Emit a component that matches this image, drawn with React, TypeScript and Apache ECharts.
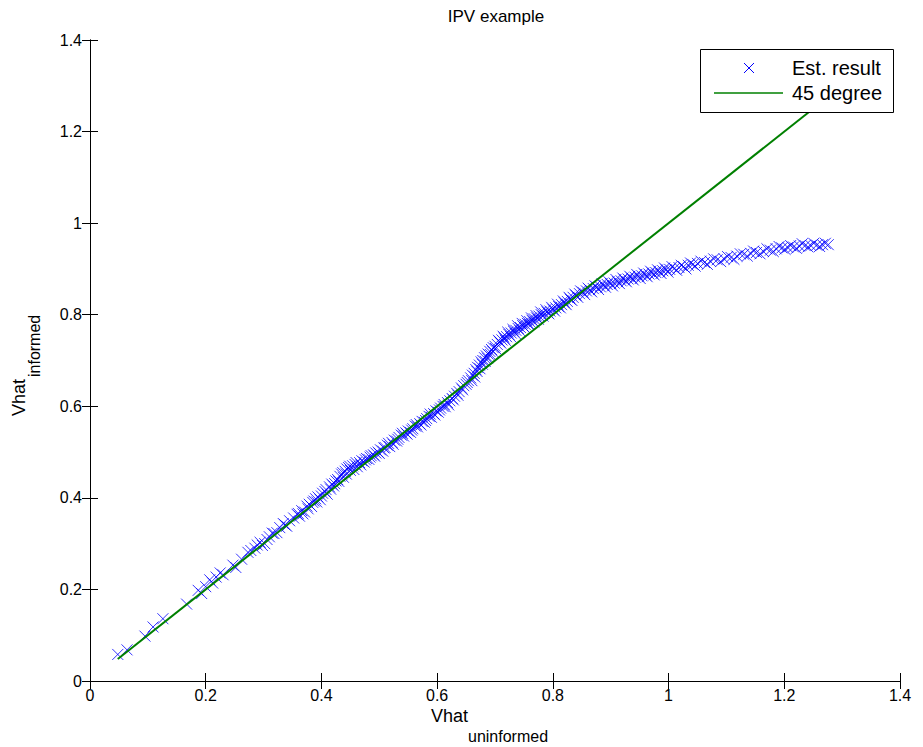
import React, { useEffect, useRef } from "react";
import * as echarts from "echarts";

const axisTicks = [0, 0.2, 0.4, 0.6, 0.8, 1, 1.2, 1.4];
const legendNames = ["Est. result", "45 degree"];

const estLow: number[][] = [
  [0.048, 0.058], [0.064, 0.068], [0.095, 0.098], [0.109, 0.118], [0.126, 0.136],
  [0.167, 0.168], [0.187, 0.198], [0.193, 0.191], [0.2, 0.206], [0.207, 0.221], [0.212, 0.214],
  [0.218, 0.227], [0.225, 0.236], [0.23, 0.232], [0.247, 0.253], [0.252, 0.248], [0.262, 0.266],
  [0.273, 0.281], [0.278, 0.285], [0.285, 0.29], [0.289, 0.297], [0.294, 0.303], [0.298, 0.296],
  [0.302, 0.3], [0.306, 0.309], [0.31, 0.315], [0.315, 0.323], [0.318, 0.322], [0.323, 0.324],
  [0.328, 0.335], [0.334, 0.344], [0.337, 0.341], [0.34, 0.338], [0.345, 0.35],
];

const estMid: number[][] = [
  [0.352, 0.356], [0.358, 0.364], [0.36, 0.366], [0.362, 0.36], [0.366, 0.372], [0.368, 0.365],
  [0.371, 0.369], [0.375, 0.382], [0.377, 0.376], [0.379, 0.386], [0.383, 0.381], [0.385, 0.39],
  [0.387, 0.393], [0.39, 0.398], [0.392, 0.391], [0.394, 0.402], [0.398, 0.396], [0.4, 0.404],
  [0.402, 0.41], [0.406, 0.414], [0.408, 0.418], [0.41, 0.408], [0.414, 0.424], [0.416, 0.419],
  [0.418, 0.43], [0.421, 0.426], [0.423, 0.431], [0.425, 0.437], [0.428, 0.44], [0.43, 0.436],
  [0.432, 0.447], [0.435, 0.452], [0.437, 0.455], [0.438, 0.445], [0.441, 0.458], [0.443, 0.452],
  [0.444, 0.463], [0.447, 0.466], [0.449, 0.469], [0.45, 0.46], [0.454, 0.47], [0.456, 0.462],
  [0.458, 0.473], [0.46, 0.477], [0.462, 0.468], [0.466, 0.477], [0.468, 0.472], [0.47, 0.481],
  [0.474, 0.478], [0.476, 0.483], [0.478, 0.486], [0.482, 0.484], [0.484, 0.489], [0.486, 0.492],
  [0.49, 0.494], [0.492, 0.491], [0.494, 0.498], [0.498, 0.5], [0.5, 0.497], [0.502, 0.505],
  [0.506, 0.502], [0.508, 0.509], [0.51, 0.51], [0.514, 0.515], [0.516, 0.519], [0.518, 0.512],
  [0.522, 0.521], [0.524, 0.517], [0.526, 0.526], [0.53, 0.524], [0.532, 0.528], [0.534, 0.532],
  [0.538, 0.537], [0.54, 0.541], [0.542, 0.535], [0.546, 0.542], [0.548, 0.539], [0.55, 0.546],
  [0.554, 0.543], [0.556, 0.548], [0.558, 0.551], [0.562, 0.557], [0.564, 0.56], [0.566, 0.555],
  [0.57, 0.562], [0.572, 0.559], [0.574, 0.567], [0.578, 0.565], [0.58, 0.569], [0.582, 0.573],
  [0.586, 0.578], [0.588, 0.583], [0.59, 0.576], [0.594, 0.584], [0.596, 0.581], [0.598, 0.59],
  [0.602, 0.587], [0.604, 0.592], [0.606, 0.596], [0.61, 0.6], [0.612, 0.604], [0.614, 0.599],
  [0.618, 0.608], [0.62, 0.603], [0.622, 0.612], [0.626, 0.617], [0.628, 0.614], [0.63, 0.622],
  [0.634, 0.628], [0.636, 0.624], [0.638, 0.632],
];

const estBump: number[][] = [
  [0.642, 0.64], [0.644, 0.636], [0.646, 0.645], [0.65, 0.648], [0.652, 0.652], [0.654, 0.656],
  [0.658, 0.662], [0.66, 0.656], [0.661, 0.668], [0.664, 0.672], [0.665, 0.664], [0.667, 0.68],
  [0.669, 0.676], [0.67, 0.685], [0.673, 0.69], [0.674, 0.682], [0.676, 0.697], [0.678, 0.692],
  [0.679, 0.7], [0.682, 0.706], [0.683, 0.698], [0.685, 0.71], [0.687, 0.705], [0.688, 0.714],
  [0.691, 0.72], [0.692, 0.713], [0.694, 0.724], [0.696, 0.72], [0.697, 0.728], [0.7, 0.731],
  [0.701, 0.726], [0.704, 0.735], [0.706, 0.744], [0.708, 0.741], [0.71, 0.738], [0.712, 0.745],
  [0.714, 0.753], [0.716, 0.749], [0.718, 0.744], [0.72, 0.752], [0.722, 0.762], [0.724, 0.757],
  [0.727, 0.752], [0.728, 0.76], [0.731, 0.768], [0.732, 0.764], [0.735, 0.759], [0.736, 0.766],
  [0.739, 0.776], [0.74, 0.77], [0.743, 0.765], [0.744, 0.772], [0.747, 0.781], [0.748, 0.776],
  [0.751, 0.772], [0.752, 0.779], [0.755, 0.787], [0.756, 0.781], [0.759, 0.779], [0.76, 0.785],
  [0.763, 0.793], [0.764, 0.788], [0.767, 0.784], [0.768, 0.791], [0.771, 0.798], [0.772, 0.793],
  [0.775, 0.79], [0.776, 0.797], [0.779, 0.806], [0.78, 0.8], [0.783, 0.797], [0.785, 0.803],
  [0.788, 0.811], [0.79, 0.806], [0.793, 0.802], [0.795, 0.808], [0.798, 0.816], [0.8, 0.812],
  [0.803, 0.808], [0.805, 0.815], [0.808, 0.823], [0.81, 0.818], [0.813, 0.815], [0.815, 0.822],
  [0.818, 0.83], [0.82, 0.826], [0.823, 0.822], [0.825, 0.829], [0.828, 0.838], [0.83, 0.834],
  [0.833, 0.831], [0.835, 0.838], [0.838, 0.845], [0.84, 0.842], [0.843, 0.838], [0.846, 0.846],
  [0.848, 0.852],
];

const estHigh: number[][] = [
  [0.852, 0.849], [0.855, 0.844], [0.858, 0.852], [0.861, 0.858], [0.864, 0.854], [0.867, 0.85],
  [0.87, 0.857], [0.873, 0.863], [0.876, 0.86], [0.879, 0.855], [0.882, 0.861], [0.885, 0.868],
  [0.888, 0.864], [0.891, 0.86], [0.894, 0.866], [0.897, 0.872], [0.9, 0.868], [0.903, 0.863],
  [0.906, 0.869], [0.909, 0.877], [0.912, 0.872], [0.915, 0.868], [0.918, 0.874], [0.921, 0.88],
  [0.924, 0.876], [0.927, 0.872], [0.93, 0.878], [0.933, 0.884], [0.936, 0.88], [0.939, 0.876],
  [0.942, 0.882], [0.945, 0.888], [0.948, 0.884], [0.951, 0.879], [0.954, 0.885], [0.957, 0.891],
  [0.96, 0.887], [0.963, 0.883], [0.966, 0.889], [0.969, 0.895], [0.972, 0.891], [0.975, 0.887],
  [0.978, 0.892], [0.981, 0.898], [0.984, 0.894], [0.987, 0.89], [0.99, 0.896], [0.993, 0.902],
  [0.996, 0.898], [0.999, 0.893], [1.002, 0.899], [1.006, 0.905], [1.01, 0.901], [1.014, 0.897],
  [1.018, 0.903], [1.022, 0.908], [1.026, 0.905], [1.03, 0.9], [1.034, 0.908], [1.038, 0.913],
  [1.042, 0.91], [1.046, 0.906], [1.05, 0.912], [1.056, 0.917], [1.062, 0.914], [1.067, 0.91],
  [1.072, 0.917], [1.078, 0.922], [1.084, 0.92], [1.09, 0.916], [1.096, 0.922], [1.102, 0.927],
  [1.108, 0.925], [1.113, 0.921], [1.118, 0.928], [1.124, 0.933], [1.13, 0.932], [1.136, 0.928],
  [1.142, 0.934], [1.147, 0.939], [1.152, 0.936], [1.158, 0.933], [1.164, 0.938], [1.17, 0.944],
  [1.176, 0.941], [1.181, 0.938], [1.186, 0.944], [1.191, 0.949], [1.196, 0.946], [1.201, 0.943],
  [1.206, 0.947], [1.211, 0.951], [1.216, 0.948], [1.221, 0.945], [1.226, 0.95], [1.231, 0.955],
  [1.236, 0.951], [1.241, 0.948], [1.246, 0.951], [1.251, 0.956], [1.256, 0.952], [1.261, 0.949],
  [1.266, 0.953], [1.271, 0.956], [1.276, 0.953],
];

const lineEnds: number[][] = [
  [0.048, 0.048],
  [1.276, 1.276],
];

const FONT = "'Liberation Sans', Arial, Helvetica, sans-serif";
const X_MARK = "path://M0,0L10,10M0,10L10,0";
const BLUE = "#0000ff";
const GREEN = "#008000";

export default function App() {
  const ref = useRef<HTMLDivElement>(null);
  useEffect(() => {
    if (!ref.current) return;
    const chart = echarts.init(ref.current, undefined, { renderer: "svg" });
    const axisBase = {
      type: "value" as const,
      min: axisTicks[0],
      max: axisTicks[axisTicks.length - 1],
      interval: 0.2,
      splitLine: { show: false },
      axisLine: { show: true, lineStyle: { color: "#000", width: 1 } },
      axisTick: { show: true, inside: true, length: 8, lineStyle: { color: "#000" } },
    };
    const xLabelStyle = { color: "#000", fontSize: 16, fontFamily: FONT, margin: 6 };
    const yLabelStyle = { color: "#000", fontSize: 16, fontFamily: FONT, margin: 8 };
    const txt = (text: string, size: number, extra: any) => ({
      type: "text",
      z: 100,
      ...extra,
      style: { text, fontSize: size, fontFamily: FONT, fill: "#000", ...(extra.style || {}) },
    });
    chart.setOption({
      animation: false,
      backgroundColor: "#fff",
      title: {
        text: "IPV example",
        left: 491,
        top: 3,
        textAlign: "center",
        textStyle: { fontSize: 17, fontWeight: "normal", color: "#000", fontFamily: FONT },
      },
      grid: { left: 90, right: 23, top: 40, bottom: 66, containLabel: false },
      xAxis: [
        { ...axisBase, position: "bottom", axisLabel: xLabelStyle },
        { ...axisBase, position: "top", axisLabel: { show: false } },
      ],
      yAxis: [
        { ...axisBase, position: "left", axisLabel: yLabelStyle },
        { ...axisBase, position: "right", axisLabel: { show: false } },
      ],
      graphic: [
        txt("Vhat", 18, { x: 431, y: 716, style: { align: "left", verticalAlign: "middle" } }),
        txt("uninformed", 16, { x: 468, y: 736, style: { align: "left", verticalAlign: "middle" } }),
        txt("Vhat", 18, {
          x: 19, y: 416, rotation: Math.PI / 2,
          style: { align: "left", verticalAlign: "middle" },
        }),
        txt("informed", 16, {
          x: 34, y: 377, rotation: Math.PI / 2,
          style: { align: "left", verticalAlign: "middle" },
        }),
        {
          type: "rect",
          z: 99,
          shape: { x: 700.5, y: 49.5, width: 193, height: 63 },
          style: { fill: "#fff", stroke: "#000", lineWidth: 1 },
        },
        {
          type: "line", z: 100,
          shape: { x1: 744, y1: 63, x2: 754, y2: 73 },
          style: { stroke: BLUE, lineWidth: 1 },
        },
        {
          type: "line", z: 100,
          shape: { x1: 744, y1: 73, x2: 754, y2: 63 },
          style: { stroke: BLUE, lineWidth: 1 },
        },
        {
          type: "line", z: 100,
          shape: { x1: 714, y1: 93, x2: 783, y2: 93 },
          style: { stroke: GREEN, lineWidth: 1.5 },
        },
        txt(legendNames[0], 20, { x: 792, y: 68, style: { align: "left", verticalAlign: "middle" } }),
        txt(legendNames[1], 20, { x: 792, y: 93, style: { align: "left", verticalAlign: "middle" } }),
      ],
      series: [
        {
          name: legendNames[0],
          type: "scatter",
          symbol: X_MARK,
          symbolSize: 11,
          itemStyle: { color: "rgba(0,0,0,0)", borderColor: BLUE, borderWidth: 1 },
          data: [...estLow, ...estMid, ...estBump, ...estHigh],
        },
        {
          name: legendNames[1],
          type: "line",
          showSymbol: false,
          symbol: "none",
          lineStyle: { color: GREEN, width: 2 },
          itemStyle: { color: GREEN },
          data: lineEnds,
        },
      ],
    });
    return () => chart.dispose();
  }, []);
  return (
    <div
      ref={ref}
      style={{ position: "fixed", left: 0, top: 0, width: 923, height: 747, background: "#fff" }}
    />
  );
}
